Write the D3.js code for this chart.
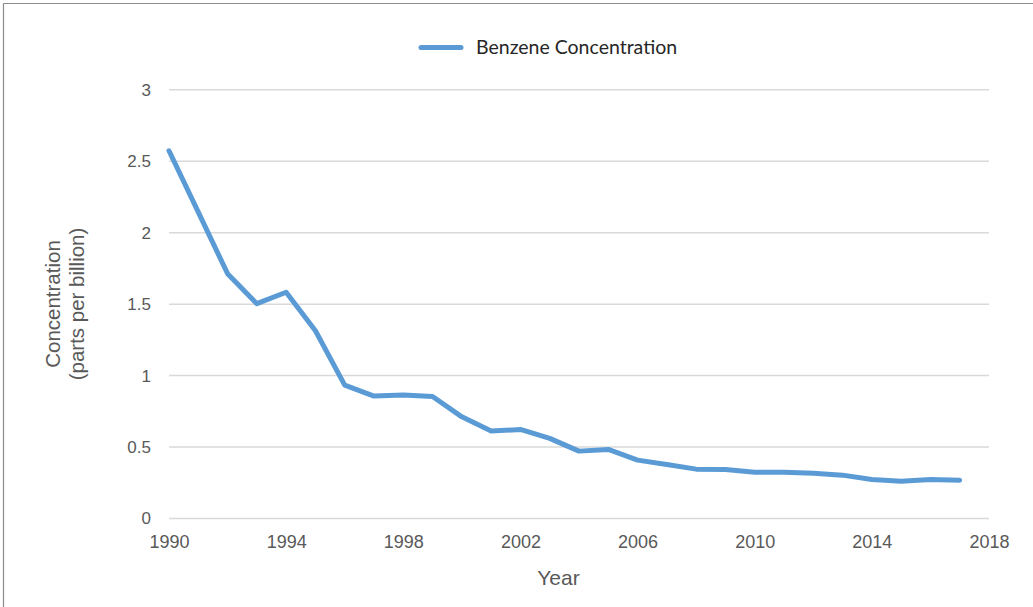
<!DOCTYPE html>
<html><head><meta charset="utf-8">
<script src="https://cdn.jsdelivr.net/npm/d3@7"></script>
<style>
html,body{margin:0;padding:0;background:#fff;}
svg{display:block;}
</style></head>
<body>
<script>
const years = [1990,1991,1992,1993,1994,1995,1996,1997,1998,1999,2000,2001,2002,2003,2004,2005,2006,2007,2008,2009,2010,2011,2012,2013,2014,2015,2016,2017];
const benzene = [2.57,2.14,1.71,1.50,1.58,1.31,0.93,0.853,0.86,0.85,0.708,0.608,0.62,0.557,0.468,0.48,0.405,0.375,0.342,0.34,0.32,0.32,0.313,0.30,0.27,0.257,0.27,0.264];
const xTicks = [1990,1994,1998,2002,2006,2010,2014,2018];
const yTicks = [0,0.5,1,1.5,2,2.5,3];
const seriesName = "Benzene Concentration";
const xTitle = "Year";
const yTitleLines = ["Concentration","(parts per billion)"];

const W = 1033, H = 607;
const svg = d3.select("body").append("svg").attr("width",W).attr("height",H);

// frame
svg.append("line").attr("x1",3.5).attr("x2",W).attr("y1",3.5).attr("y2",3.5).attr("stroke","#8c8c8c").attr("stroke-width",1.2);
svg.append("line").attr("x1",3.5).attr("x2",3.5).attr("y1",3.5).attr("y2",H).attr("stroke","#8c8c8c").attr("stroke-width",1.2);

const x = d3.scaleLinear().domain([1990,2018]).range([169,989]);
const y = d3.scaleLinear().domain([0,3]).range([518,89.3]);

// gridlines
const yAxis = d3.axisLeft(y).tickValues(yTicks).tickSize(-(989-169)).tickPadding(18).tickFormat(d3.format("~g"));
const gy = svg.append("g").attr("transform","translate(169,0)").call(yAxis);
gy.select(".domain").remove();
gy.selectAll(".tick line").attr("stroke","#d9d9d9").attr("stroke-width",1.5);
gy.selectAll(".tick text").attr("fill","#595959").style("font-family","'Liberation Sans', Arial, sans-serif").style("font-size","17px").attr("dy","0.35em");

const xAxis = d3.axisBottom(x).tickValues(xTicks).tickSize(0).tickPadding(17).tickFormat(d3.format("d"));
const gx = svg.append("g").attr("transform","translate(0,518)").call(xAxis);
gx.select(".domain").remove();
gx.selectAll(".tick text").attr("fill","#595959").style("font-family","'Liberation Sans', Arial, sans-serif").style("font-size","18px");

// line
const line = d3.line().x((d,i)=>x(years[i])).y(d=>y(d));
svg.append("path").datum(benzene).attr("d",line).attr("fill","none").attr("stroke","#5B9BD5").attr("stroke-width",5).attr("stroke-linejoin","round").attr("stroke-linecap","round");

// axis titles
svg.append("text").attr("x",558.5).attr("y",585).attr("text-anchor","middle").attr("fill","#595959")
  .style("font-family","'Liberation Sans', Arial, sans-serif").style("font-size","21px").text(xTitle);
const yt = svg.append("text").attr("transform","translate(60,304) rotate(-90)").attr("text-anchor","middle").attr("fill","#595959")
  .style("font-family","'Liberation Sans', Arial, sans-serif").style("font-size","20.5px");
yTitleLines.forEach((t,i)=>yt.append("tspan").attr("x",0).attr("dy", i===0?0:"1.15em").text(t));

// legend
const lg = svg.append("g");
lg.append("line").attr("x1",421).attr("x2",461).attr("y1",47.5).attr("y2",47.5).attr("stroke","#5B9BD5").attr("stroke-width",5).attr("stroke-linecap","round");
lg.append("text").attr("x",476).attr("y",47.5).attr("dy","0.35em").attr("fill","#262626")
  .style("font-family","Lato, 'Open Sans', sans-serif").style("font-size","19.5px").text(seriesName);
</script>
</body></html>
